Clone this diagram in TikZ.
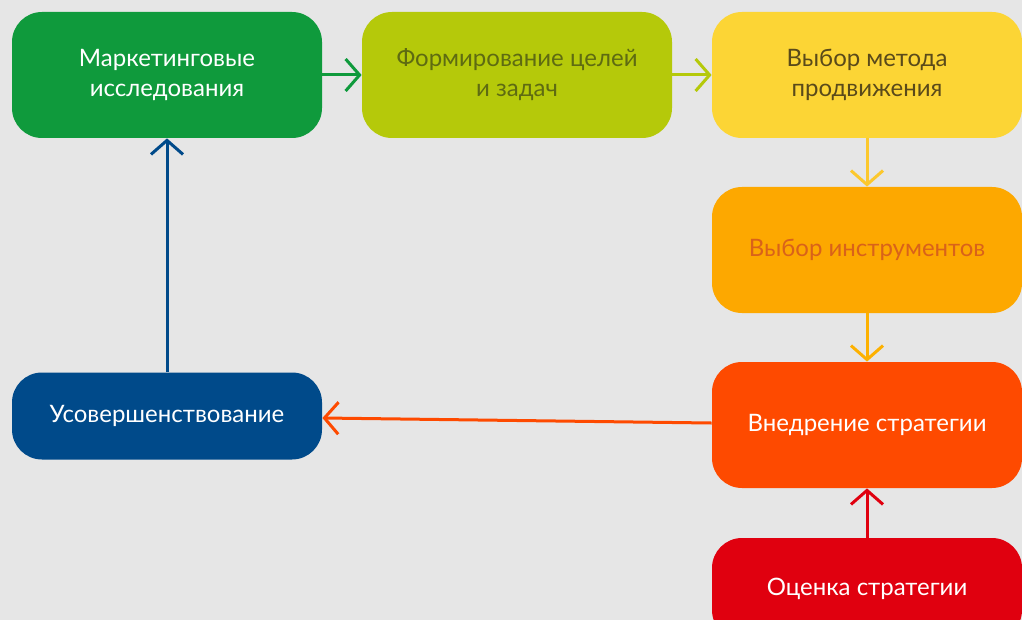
\documentclass[tikz,border=0pt]{standalone}
\usepackage{fontspec}
\setmainfont{Lato}
\usetikzlibrary{arrows.meta}

\definecolor{bggray}{HTML}{E6E6E6}
\definecolor{cgreen}{HTML}{0F9A3C}
\definecolor{clime}{HTML}{B5C90A}
\definecolor{climetext}{HTML}{5E6B12}
\definecolor{cyellow}{HTML}{FCD535}
\definecolor{cyellowtext}{HTML}{5A4A1A}
\definecolor{corange}{HTML}{FDA800}
\definecolor{corangetext}{HTML}{D9621A}
\definecolor{credor}{HTML}{FE4A00}
\definecolor{cred}{HTML}{E0000F}
\definecolor{cblue}{HTML}{004A8A}

\tikzset{
  stagebox/.style={rectangle, rounded corners=15pt, minimum width=155pt,
    minimum height=63pt, align=center, font=\fontsize{12}{15}\selectfont, inner sep=2pt},
  flow/.style={line width=1.5pt, -{Straight Barb[length=7pt,width=16pt,line width=1.5pt]}}
}

\begin{document}
\begin{tikzpicture}[x=0.5pt, y=-0.5pt]
    % Background and frame
    \clip (0,0) rectangle (1022,620);
    \fill[bggray] (0,0) rectangle (1022,620);

    % Stages
    \node[stagebox, fill=cgreen, text=white] (research) at (167,75) {Маркетинговые\\исследования};
    \node[stagebox, fill=clime, text=climetext] (goals) at (517,75) {Формирование целей\\и задач};
    \node[stagebox, fill=cyellow, text=cyellowtext] (method) at (867,75) {Выбор метода\\продвижения};
    \node[stagebox, fill=corange, text=corangetext] (tools) at (867,250) {Выбор инструментов};
    \node[stagebox, fill=credor, text=white] (launch) at (867,425) {Внедрение стратегии};
    \node[stagebox, fill=cred, text=white, minimum height=51pt] (review) at (867,589) {Оценка стратегии};
    \node[stagebox, fill=cblue, text=white, minimum height=43.5pt] (improve) at (167,416) {Усовершенствование};

    % Connectors
    \draw[flow, cgreen] (research) -- (goals);
    \draw[flow, clime] (goals) -- (method);
    \draw[flow, cyellow!85!orange] (method) -- (tools);
    \draw[flow, corange!90!yellow] (tools) -- (launch);
    \draw[flow, cred] (review) -- (launch);
    \draw[flow, credor] (launch) -- (improve);
    \draw[flow, cblue] (improve) -- (research);
\end{tikzpicture}
\end{document}
